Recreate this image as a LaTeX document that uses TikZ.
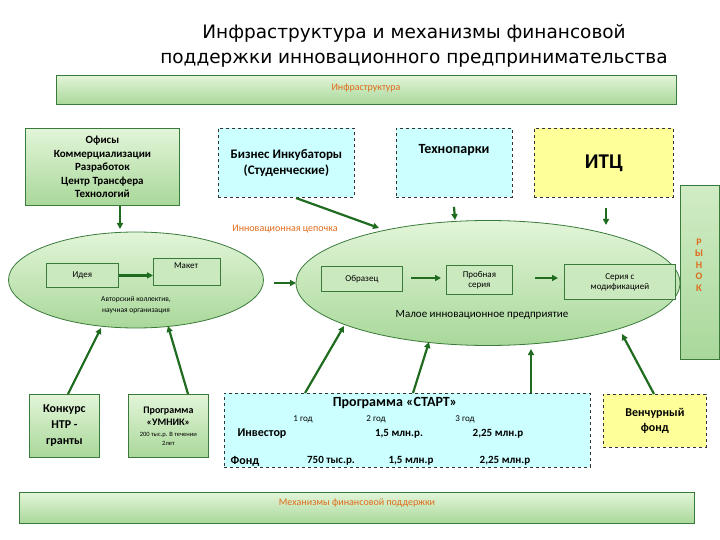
\documentclass[tikz,border=0pt]{standalone}
\usepackage{fontspec}
\setmainfont{Carlito}
\newfontfamily\titlefont{DejaVu Sans}
\usetikzlibrary{shapes.geometric,arrows.meta}
\definecolor{gborder}{HTML}{3A7A3A}
\definecolor{gtop}{HTML}{E2F5D8}
\definecolor{gbot}{HTML}{A9D89A}
\definecolor{garrow}{HTML}{1F6B1F}
\definecolor{cyanf}{HTML}{CCFFFF}
\definecolor{yelf}{HTML}{FFFF99}
\definecolor{orng}{HTML}{E06A1A}
\tikzset{
 gbox/.style={draw=gborder,thick,top color=gtop,bottom color=gbot,align=center,inner sep=1pt,anchor=north west},
 dbox/.style={draw=black!80,dashed,thick,align=center,inner sep=1pt,anchor=north west},
 sbox/.style={draw=gborder,thick,fill=gtop!60!gbot,align=center,inner sep=1pt,anchor=north west},
 ell/.style={ellipse,draw=gborder,thick,inner sep=0pt,top color=gtop,bottom color=gbot},
 arr/.style={-{Triangle[length=6pt,width=6pt]},line width=2.2pt,draw=garrow},
 sm/.style={font=\fontsize{9}{10}\selectfont,align=center},
}
\begin{document}
\begin{tikzpicture}[x=1pt,y=-1pt]
\useasboundingbox (0,0) rectangle (720,540);
\node[font=\titlefont\fontsize{18.5}{22}\selectfont] (t1) at (414,33) {Инфраструктура и механизмы финансовой};
\node[font=\titlefont\fontsize{18.5}{22}\selectfont] (t2) at (414,60) {поддержки инновационного предпринимательства};
% top bar
\node[gbox,minimum width=620pt,minimum height=29pt] (infra) at (56,75) {};
\node[text=orng,font=\fontsize{10}{12}\selectfont] (infral) at (366,88) {Инфраструктура};
% infra boxes
\node[gbox,minimum width=154pt,minimum height=77pt,font=\bfseries\fontsize{11}{13.5}\selectfont] (off) at (25,128) {Офисы\\Коммерциализации\\Разработок\\Центр Трансфера\\Технологий};
\node[dbox,fill=cyanf,minimum width=136pt,minimum height=69pt,font=\bfseries\fontsize{13}{16}\selectfont] (bi) at (218,128) {Бизнес Инкубаторы\\(Студенческие)};
\node[dbox,fill=cyanf,minimum width=116pt,minimum height=69pt,anchor=north] (tp) at (454,128) {};
\node[font=\bfseries\fontsize{14}{16}\selectfont] (tpl) at (454,150) {Технопарки};
\node[dbox,fill=yelf,minimum width=139pt,minimum height=69pt,font=\bfseries\fontsize{21}{24}\selectfont] (itc) at (534,128) {ИТЦ};
\node[gbox,minimum width=39pt,minimum height=174pt,top color=gtop!70!gbot,bottom color=gbot] (market) at (680,185) {};
\node[text=orng,font=\bfseries\fontsize{10}{11.5}\selectfont,align=center] (marketl) at (699,265) {Р\\Ы\\Н\\О\\К};
% ellipses
\node[ell,minimum width=255pt,minimum height=96pt] (e1) at (136,280) {};
\node[ell,minimum width=384pt,minimum height=125pt] (e2) at (488,283) {};
\node[text=orng,font=\fontsize{10}{12}\selectfont] (chain) at (285,229) {Инновационная цепочка};
\node[sbox,minimum width=72pt,minimum height=24pt,sm] (idea) at (46,263) {Идея};
\node[sbox,minimum width=67pt,minimum height=27pt,sm] (maket) at (153,258) {};
\node[sm] (maketl) at (186,266) {Макет};
\node[font=\fontsize{7.5}{11}\selectfont,align=center] (auth) at (136,305) {Авторский коллектив,\\научная организация};
\node[sbox,minimum width=81pt,minimum height=25pt,sm] (obr) at (321,266) {Образец};
\node[sbox,minimum width=66pt,minimum height=29pt,sm] (prob) at (446,265) {Пробная\\серия};
\node[sbox,minimum width=111pt,minimum height=35pt,sm] (ser) at (564,264) {Серия с\\модификацией};
\node[font=\fontsize{11}{13}\selectfont] (mip) at (482,315) {Малое инновационное предприятие};
% bottom boxes
\node[gbox,minimum width=70pt,minimum height=63pt,font=\bfseries\fontsize{12}{16}\selectfont] (konk) at (29,394) {Конкурс\\НТР -\\гранты};
\node[gbox,minimum width=80pt,minimum height=63pt,font=\bfseries\fontsize{10}{12}\selectfont] (umnik) at (128,394) {Программа\\«УМНИК»\\[-1pt]{\mdseries\fontsize{6.5}{8}\selectfont 200 тыс.р. В течении}\\[-3pt]{\mdseries\fontsize{6.5}{8}\selectfont 2лет}};
\node[dbox,fill=cyanf,minimum width=366pt,minimum height=74pt] (start) at (224,393) {};
\node[font=\bfseries\fontsize{14}{16}\selectfont] (startt) at (395,403) {Программа «СТАРТ»};
\begin{scope}[every node/.style={font=\fontsize{9}{11}\selectfont}]
\node (y1) at (303,419) {1 год};
\node (y2) at (376,419) {2 год};
\node (y3) at (465,419) {3 год};
\end{scope}
\begin{scope}[every node/.style={font=\bfseries\fontsize{12}{14}\selectfont}]
\node (inv) at (262,434) {Инвестор};
\node (fond) at (245,461) {Фонд};
\end{scope}
\begin{scope}[every node/.style={font=\bfseries\fontsize{11}{13}\selectfont}]
\node (i2) at (399,434) {1,5 млн.р.};
\node (i3) at (498,434) {2,25 млн.р};
\node (f1) at (331,461) {750 тыс.р.};
\node (f2) at (411,461) {1,5 млн.р};
\node (f3) at (505,461) {2,25 млн.р};
\end{scope}
\node[dbox,fill=yelf,minimum width=103pt,minimum height=53pt,font=\bfseries\fontsize{12}{15}\selectfont] (venture) at (603,394) {Венчурный\\фонд};
\node[gbox,minimum width=675pt,minimum height=31pt] (mech) at (19,492) {};
\node[text=orng,font=\fontsize{10}{12}\selectfont] (mechl) at (357,503) {Механизмы финансовой поддержки};
% arrows
\coordinate (c1) at (120,229);
\draw[arr] (off.south -| c1) -- (c1);
\coordinate (c2a) at (296,198); \coordinate (c2) at (379,228);
\draw[arr] (c2a) -- (c2);
\coordinate (c3) at (455,220);
\draw[arr] (tp.south) ++(0,9) -- (c3);
\coordinate (c4a) at (606,208); \coordinate (c4) at (606,225);
\draw[arr] (c4a) -- (c4);
\coordinate (c5a) at (274,283); \coordinate (c5) at (296,283);
\draw[arr] (c5a) -- (c5);
\draw[arr] (idea.east) -- (maket.west |- idea.east);
\coordinate (c6a) at (411,278); \coordinate (c6) at (441,278);
\draw[arr] (c6a) -- (c6);
\coordinate (c7a) at (535,278); \coordinate (c7) at (558,278);
\draw[arr] (c7a) -- (c7);
% bottom arrows
\coordinate (b1a) at (68,394); \coordinate (b1) at (101,328);
\draw[arr] (b1a) -- (b1);
\coordinate (b2a) at (188,394); \coordinate (b2) at (168,326);
\draw[arr] (b2a) -- (b2);
\coordinate (b3a) at (305,393); \coordinate (b3) at (344,326);
\draw[arr] (b3a) -- (b3);
\coordinate (b4a) at (413,393); \coordinate (b4) at (429,342);
\draw[arr] (b4a) -- (b4);
\coordinate (b5a) at (531,393); \coordinate (b5) at (531,349);
\draw[arr] (b5a) -- (b5);
\coordinate (b6a) at (654,394); \coordinate (b6) at (622,334);
\draw[arr] (b6a) -- (b6);
\end{tikzpicture}
\end{document}
